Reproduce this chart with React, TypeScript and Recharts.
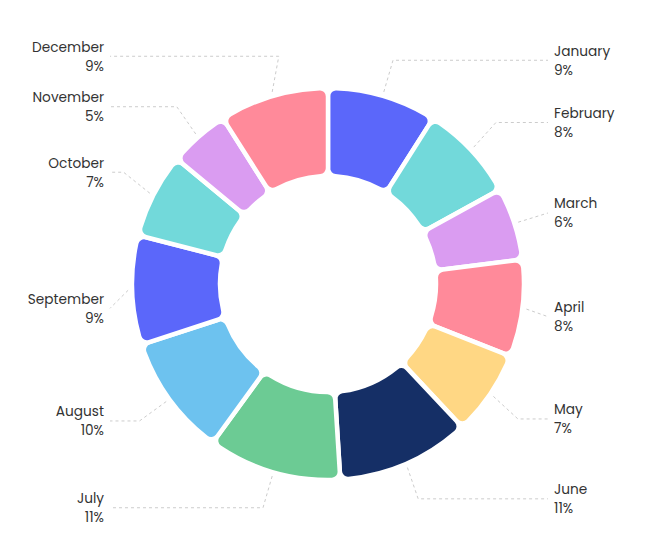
import React from 'react';
import { PieChart, Pie, Cell } from 'recharts';

const months = ['January', 'February', 'March', 'April', 'May', 'June', 'July', 'August', 'September', 'October', 'November', 'December'];
const shares = [9, 8, 6, 8, 7, 11, 11, 10, 9, 7, 5, 9];
const COLORS = ['#5b67fa', '#72d9da', '#da9cf1', '#ff8a9a', '#ffd784', '#152f66', '#6ccb94', '#6dc2ef', '#5b67fa', '#72d9da', '#da9cf1', '#ff8a9a'];

// vertical label nudges (anti-overlap layout), px
const labelShift = [0, -2, 1, 3.5, 4, 1, 0, 0, 17, -6, -2.5, -4];

const data = months.map((name, i) => ({ name, value: shares[i] }));

const RAD = Math.PI / 180;
const LINE_R = 233;

const renderLabel = (props: any) => {
  const { cx, cy, midAngle, index } = props;
  const cos = Math.cos(-midAngle * RAD);
  const sin = Math.sin(-midAngle * RAD);
  const sx = cx + 200 * cos;
  const sy = cy + 200 * sin;
  const right = cos >= 0;
  const my = cy + LINE_R * sin + labelShift[index];
  const dy = Math.min(Math.abs(my - cy), LINE_R);
  let mx = cx + (right ? 1 : -1) * Math.sqrt(LINE_R * LINE_R - dy * dy);
  const ex = right ? 548 : 110;
  mx = right ? Math.min(mx, ex) : Math.max(mx, ex);
  const tx = right ? 554 : 104;
  const anchor = right ? 'start' : 'end';
  return (
    <g>
      <path d={`M${sx},${sy}L${mx},${my}L${ex},${my}`} stroke="#cccccc" strokeDasharray="3 3" fill="none" />
      <text x={tx} y={my - 9} textAnchor={anchor} dominantBaseline="central" fill="#333" fontSize={13.7}>
        {months[index]}
      </text>
      <text x={tx} y={my + 10} textAnchor={anchor} dominantBaseline="central" fill="#333" fontSize={13.7}>
        {`${shares[index]}%`}
      </text>
    </g>
  );
};

export default function App() {
  return (
    <div style={{ position: 'absolute', left: 0, top: 0, width: 671, height: 546, background: '#fff' }}>
      <PieChart
        width={671}
        height={546}
        margin={{ top: 0, right: 0, bottom: 0, left: 0 }}
        style={{ fontFamily: 'Poppins, "Open Sans", sans-serif' }}
      >
        <Pie
          data={data}
          dataKey="value"
          nameKey="name"
          cx={328}
          cy={284}
          innerRadius={108}
          outerRadius={196}
          startAngle={90}
          endAngle={-270}
          cornerRadius={8}
          stroke="#ffffff"
          strokeWidth={4.5}
          label={renderLabel}
          labelLine={false}
          isAnimationActive={false}
        >
          {data.map((entry, index) => (
            <Cell key={`cell-${index}`} fill={COLORS[index]} />
          ))}
        </Pie>
      </PieChart>
    </div>
  );
}
